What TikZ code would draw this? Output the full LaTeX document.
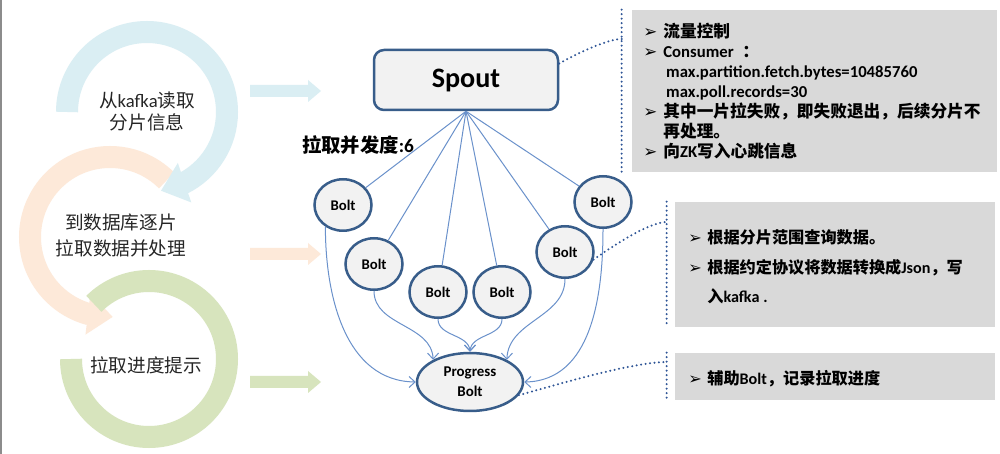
\documentclass[tikz,border=0pt]{standalone}
\usepackage{fontspec}
\setmainfont{Carlito}
\newfontfamily\hanzi{Noto Sans CJK SC}
\newfontfamily\pfeilfont{DejaVu Sans}
\usetikzlibrary{arrows.meta, bending, positioning, shapes.geometric}
\definecolor{ringblau}{RGB}{218,238,243}
\definecolor{ringpfirsich}{RGB}{253,233,217}
\definecolor{ringgruen}{RGB}{215,228,189}
\definecolor{rand}{RGB}{56,93,138}
\definecolor{fuell}{RGB}{242,242,242}
\definecolor{linienblau}{RGB}{106,145,203}
\definecolor{punktblau}{RGB}{47,85,151}
\definecolor{kastengrau}{RGB}{217,217,217}
\newcommand{\pkt}[1][11.4pt]{\makebox[#1][l]{\pfeilfont\mdseries ➢}}

\begin{document}
\begin{tikzpicture}[
    x=0.2mm, y=0.2mm,
    ring/.style = {line width=4.4mm},
    spoutform/.style = {rectangle, rounded corners=2mm, draw=rand, line width=0.5mm, fill=fuell,
                        minimum width=36.8mm, minimum height=12mm,
                        font=\fontsize{16}{18}\selectfont\bfseries},
    boltform/.style = {ellipse, draw=rand, line width=0.5mm, fill=fuell, inner sep=0pt,
                       minimum width=11.4mm, minimum height=10.3mm,
                       font=\fontsize{8.4}{10}\selectfont\bfseries},
    kasse/.style = {rectangle, fill=kastengrau, inner sep=0pt},
    infotext/.style = {anchor=north west, align=left, inner sep=0pt},
    etikett/.style = {align=center, text=black!85},
    linie/.style = {linienblau, line width=0.2mm},
    pil/.style = {linienblau, line width=0.2mm, -{Straight Barb[length=1.2mm, width=2.2mm]}},
    prikk/.style = {punktblau, line width=0.45mm, line cap=round, dash pattern=on 0pt off 0.9mm}
    ]

  \fill[white] (0,0) rectangle (1000,454) ;
  \useasboundingbox (0,0) rectangle (1000,454) ;
  \draw[black!45, line width=0.3mm] (1,0) -- (1,454) ;

  % left: three steps as rings
  \draw[ring, ringpfirsich, -{Triangle[length=5mm, width=8mm]}] (110,217) ++(45:80) arc[start angle=45, end angle=272, radius=80] ;
  \draw[ring, ringblau, -{Triangle[length=5mm, width=8mm]}] (147,342) ++(180:80) arc[start angle=180, end angle=-80, radius=80] ;
  \draw[ring, ringgruen] (149,95) ++(180:78) arc[start angle=180, end angle=495, radius=78] ;

  \foreach \y/\farbe in {363/ringblau, 200/ringpfirsich, 72/ringgruen}
    \fill[\farbe] (250,\y-6) -- ++(58,0) -- ++(0,-5) -- ++(13,11) -- ++(-13,11) -- ++(0,-5) -- ++(-58,0) -- cycle ;

  \node[etikett, font=\fontsize{10.6}{12.5}\selectfont] (l1) at (147,343) {{\hanzi 从}kafka{\hanzi 读取}\\{\hanzi 分片信息}} ;
  \node[etikett, font=\fontsize{10.6}{14.8}\selectfont] (l2) at (121,219) {{\hanzi 到数据库逐片}\\{\hanzi 拉取数据并处理}} ;
  \node[etikett, font=\fontsize{10.6}{12.5}\selectfont] (l3) at (146,89) {{\hanzi 拉取进度提示}} ;

  % topology
  \node[spoutform] (spout) at (466,374) {Spout} ;
  \node[boltform] (b1) at (343,249) {Bolt} ;
  \node[boltform] (b2) at (374,190) {Bolt} ;
  \node[boltform] (b3) at (438,162) {Bolt} ;
  \node[boltform] (b4) at (502,162) {Bolt} ;
  \node[boltform] (b5) at (565,202) {Bolt} ;
  \node[boltform] (b6) at (603,252) {Bolt} ;
  \node[boltform, minimum width=21.2mm, minimum height=11.6mm, align=center,
        font=\fontsize{8.5}{11.4}\selectfont\bfseries] (prog) at (470,72) {Progress\\Bolt} ;
  \node[font=\fontsize{11}{13}\selectfont\bfseries] (grad) at (358,309) {{\hanzi 拉取并发度}:6} ;

  \draw[linie] (spout.south) edge (b1) edge (b2) edge (b3) edge (b4) edge (b5) edge (b6) ;

  \draw[pil] (b1.231) to[out=-90, in=180] (prog.west) ;
  \draw[pil] (b2) to[out=-90, in=90] (prog.149) ;
  \draw[pil] (b3) to[out=-90, in=90] (prog.north) ;
  \draw[pil] (b4) to[out=-90, in=90] (prog.north) ;
  \draw[pil] (b5) to[out=-90, in=90] (prog.31) ;
  \draw[pil] (b6) to[out=-90, in=0] (prog.east) ;

  % notes on the right
  \node[kasse, minimum width=73mm, minimum height=32.4mm] (box1) at (814.5,363) {} ;
  \node[kasse, minimum width=64mm, minimum height=25mm] (box2) at (835,189.5) {} ;
  \node[kasse, minimum width=64mm, minimum height=9.4mm] (box3) at (835,77.5) {} ;

  \node[infotext, font=\fontsize{9.5}{11.4}\selectfont\bfseries] (t1) at (643,431) {%
    \pkt{\hanzi 流量控制}\\
    \pkt Consumer\hspace{5pt}{\hanzi ：}\\
    \hspace*{13pt}max.partition.fetch.bytes=10485760\\
    \hspace*{13pt}max.poll.records=30\\
    \pkt{\hanzi 其中一片拉失败，即失败退出，后续分片不}\\
    \hspace*{11.4pt}{\hanzi 再处理。}\\
    \pkt{\hanzi 向}ZK{\hanzi 写入心跳信息}} ;
  \node[infotext, font=\fontsize{9.2}{17}\selectfont\bfseries] (t2) at (688,225) {%
    \pkt[10.8pt]{\hanzi 根据分片范围查询数据。}\\
    \pkt[10.8pt]{\hanzi 根据约定协议将数据转换成}Json{\hanzi ，写}\\
    \hspace*{10.8pt}{\hanzi 入}kafka .} ;
  \node[infotext, font=\fontsize{9.2}{11}\selectfont\bfseries] (t3) at (688,84) {%
    \pkt[10.8pt]{\hanzi 辅助}Bolt{\hanzi ，记录拉取进度}} ;

  \coordinate (k1) at (622,415) ;
  \coordinate (k2) at (667,232) ;
  \coordinate (k3) at (667,92) ;
  \draw[prikk] ([xshift=-2mm]box1.north west) -- ([xshift=-2mm]box1.south west) ;
  \draw[prikk] ([xshift=-1.6mm]box2.north west) -- ([xshift=-1.6mm]box2.south west) ;
  \draw[prikk] ([xshift=-1.6mm]box3.north west) -- ([xshift=-1.6mm]box3.south west) ;
  \draw[prikk] (spout.10) to[out=30, in=180, looseness=0.6] (k1) ;
  \draw[prikk] (b5.-15) to[out=35, in=180, looseness=0.6] (k2) ;
  \draw[prikk] (prog.-15) to[out=15, in=180, looseness=0.6] (k3) ;
\end{tikzpicture}
\end{document}
